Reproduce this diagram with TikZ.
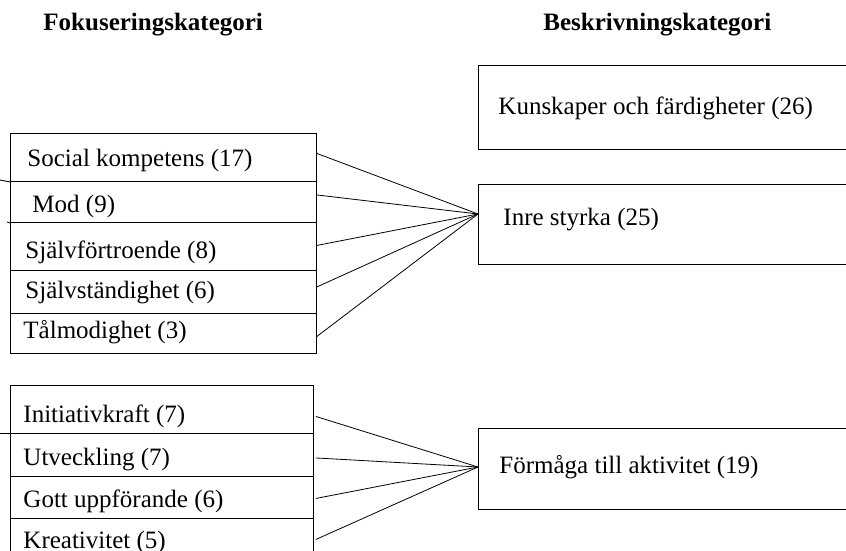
\documentclass[tikz,border=0pt]{standalone}
\usepackage{fontspec}
\setmainfont{Liberation Serif}
\begin{document}
\begin{tikzpicture}[x=1pt,y=-1pt,line width=0.9pt,
  rowbox/.style={draw,rectangle,anchor=north west,inner sep=0pt},
  catbox/.style={draw,rectangle,anchor=north west,inner sep=0pt,minimum width=420pt},
  lbl/.style={anchor=base west,inner sep=0pt,font=\fontsize{25}{30}\selectfont},
  head/.style={anchor=base west,inner sep=0pt,font=\fontsize{25}{30}\selectfont\bfseries},
  link/.style={draw,line width=0.8pt}]
\useasboundingbox (0,0) rectangle (846,551);

% headings
\node[head] (hl) at (43,31) {Fokuseringskategori};
\node[head] (hr) at (543,31) {Beskrivningskategori};

% description categories (right)
\node[catbox,minimum height=84pt] (kun) at (478,65) {};
\node[lbl] (kunt) at (498,114) {Kunskaper och färdigheter (26)};
\node[catbox,minimum height=80pt] (inre) at (478,184) {};
\node[lbl] (inret) at (503,225) {Inre styrka (25)};
\node[catbox,minimum height=81pt] (form) at (478,428) {};
\node[lbl] (formt) at (499,473) {Förmåga till aktivitet (19)};
\coordinate (inrein) at (478,214);
\coordinate (formin) at (478,467);

% focus categories, first group
\node[rowbox,minimum width=306pt,minimum height=48pt] (a1) at (10,133) {};
\node[rowbox,minimum width=306pt,minimum height=41pt] (a2) at (10,181) {};
\node[rowbox,minimum width=306pt,minimum height=48pt] (a3) at (10,222) {};
\node[rowbox,minimum width=306pt,minimum height=43pt] (a4) at (10,270) {};
\node[rowbox,minimum width=306pt,minimum height=40pt] (a5) at (10,313) {};
\node[lbl] at (27,166) {Social kompetens (17)};
\node[lbl] at (32,212) {Mod (9)};
\node[lbl] at (25,258) {Självförtroende (8)};
\node[lbl] at (25,298) {Självständighet (6)};
\node[lbl] at (23,338) {Tålmodighet (3)};
\draw (0,180) -- (a1.south west);
\draw (7,222) -- (a2.south west);

% focus categories, second group
\node[rowbox,minimum width=303pt,minimum height=48pt] (b1) at (10,385) {};
\node[rowbox,minimum width=303pt,minimum height=43pt] (b2) at (10,433) {};
\node[rowbox,minimum width=303pt,minimum height=42pt] (b3) at (10,476) {};
\node[rowbox,minimum width=303pt,minimum height=60pt] (b4) at (10,518) {};
\node[lbl] at (23,422) {Initiativkraft (7)};
\node[lbl] at (23,465) {Utveckling (7)};
\node[lbl] at (23,507) {Gott uppförande (6)};
\node[lbl] at (23,548) {Kreativitet (5)};
\draw (0,433) -- (b2.north west);

% connectors
\draw[link] ([yshift=4pt]a1.east) -- (inrein);
\draw[link] ([yshift=7pt]a2.east) -- (inrein);
\draw[link] ([yshift=1pt]a3.east) -- (inrein);
\draw[link] ([yshift=5pt]a4.east) -- (inrein);
\draw[link] ([yshift=-3pt]a5.east) -- (inrein);
\draw[link] ([yshift=-7pt,xshift=2pt]b1.east) -- (formin);
\draw[link] ([yshift=-3pt,xshift=2pt]b2.east) -- (formin);
\draw[link] ([yshift=-1pt,xshift=2pt]b3.east) -- (formin);
\draw[link] ([yshift=9pt,xshift=2pt]b4.east) -- (formin);
\end{tikzpicture}
\end{document}
